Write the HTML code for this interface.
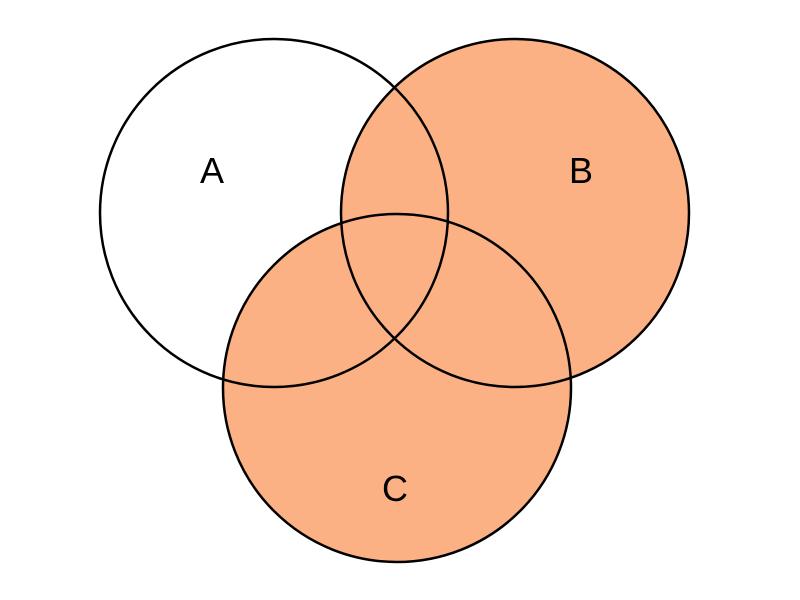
<!DOCTYPE html>
<html><head><meta charset="utf-8"><style>html,body{margin:0;padding:0;background:#fff}svg{display:block}</style></head>
<body>
<svg width="800" height="600" viewBox="0 0 800 600" xmlns="http://www.w3.org/2000/svg">
<circle cx="515" cy="213" r="174" fill="#FBB183"/>
<circle cx="397" cy="388" r="174" fill="#FBB183"/>
<g fill="none" stroke="#000" stroke-width="2.5">
<circle cx="274" cy="213" r="174"/>
<circle cx="515" cy="213" r="174"/>
<circle cx="397" cy="388" r="174"/>
</g>
<g font-family="Liberation Sans, sans-serif" font-size="36" text-anchor="middle" fill="#000">
<text x="212" y="183">A</text>
<text x="581" y="183">B</text>
<text x="395" y="501">C</text>
</g>
</svg>
</body></html>
